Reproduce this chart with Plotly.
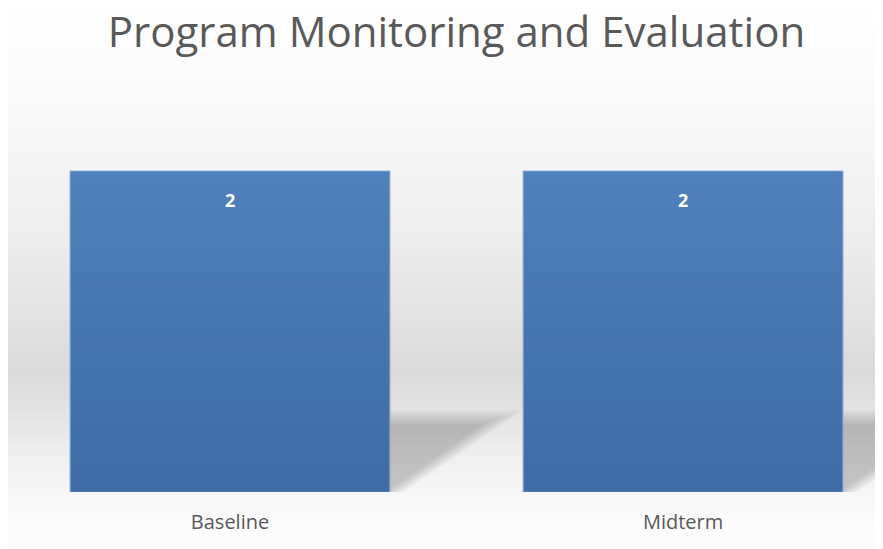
import numpy as np
import plotly.graph_objects as go

# --- Data ------------------------------------------------------------------
categories = ["Baseline", "Midterm"]
values = [2, 2]
title_text = "Program Monitoring and Evaluation"

# --- Geometry / style ------------------------------------------------------
# (the page body adds an 8px offset, so figure pixels = screen pixels - 8)
W, H = 883, 549
margin = dict(l=0, r=0, t=52, b=65)
plot_h = H - margin["t"] - margin["b"]
OFF = 8

bar_width = 0.706
x_pos = list(range(len(categories)))

# background gradient (screen pixel row -> grey level), Office style "floor" fill
grad_stops = [
    (0, 255), (60, 252), (170, 244), (260, 234), (330, 225),
    (370, 218), (385, 221), (420, 229), (460, 240), (490, 246),
    (520, 251), (560, 253),
]
stop_px = np.array([s[0] for s in grad_stops], dtype=float)
stop_g = np.array([s[1] for s in grad_stops], dtype=float)


def px_to_paper(py):
    return (H - margin["b"] - (py - OFF)) / plot_h


shapes = []
step = 3
for py in range(OFF, H + OFF, step):
    g = int(round(np.interp(py + step / 2, stop_px, stop_g)))
    shapes.append(dict(
        type="rect", xref="paper", yref="paper", layer="below",
        x0=0, x1=1.02, y0=px_to_paper(py + step), y1=px_to_paper(py),
        fillcolor=f"rgb({g},{g},{g})", line=dict(width=0),
    ))

# soft perspective shadows behind each bar
n_layers = 9
for xc in x_pos:
    right = xc + bar_width / 2
    for k in range(n_layers):
        t = (k - (n_layers - 1) / 2)
        top = 0.467 + t * 0.011
        tip = right + 0.25 + t * 0.011
        foot = right + 0.012 + t * 0.005
        shapes.append(dict(
            type="path", xref="x", yref="y", layer="below",
            path=f"M {xc},0 L {xc},{top} L {tip},{top} L {foot},0 Z",
            fillcolor="rgba(0,0,0,0.022)", line=dict(width=0),
        ))

# vertical shading on the bars (lighter top, darker bottom)
n_shade = 40
for xc, v in zip(x_pos, values):
    for k in range(n_shade):
        y0 = v * k / n_shade
        y1 = v * (k + 1) / n_shade
        a = 0.35 * (1 - (k + 0.5) / n_shade)
        shapes.append(dict(
            type="rect", xref="x", yref="y", layer="above",
            x0=xc - bar_width / 2 + 0.002, x1=xc + bar_width / 2 - 0.002,
            y0=y0, y1=y1,
            fillcolor=f"rgba(30,70,130,{a:.3f})", line=dict(width=0),
        ))

fig = go.Figure()
fig.add_trace(go.Bar(
    x=x_pos,
    y=values,
    width=bar_width,
    marker=dict(color="#4f81bd", line=dict(color="#8aa8d2", width=1)),
    hoverinfo="x+y",
))

annotations = [
    dict(x=x, y=v, xref="x", yref="y", text=f"<b>{v}</b>", showarrow=False,
         yshift=-29, font=dict(family="Open Sans", size=18, color="white"))
    for x, v in zip(x_pos, values)
]

fig.update_layout(
    width=W,
    height=H,
    margin=margin,
    paper_bgcolor="white",
    plot_bgcolor="rgba(0,0,0,0)",
    showlegend=False,
    shapes=shapes,
    annotations=annotations,
    title=dict(
        text=title_text, xref="container", yref="container",
        x=448.5 / W, y=1 - 24 / H, xanchor="center", yanchor="middle",
        font=dict(family="Open Sans", size=42, color="#595959"),
    ),
    xaxis=dict(
        range=[-0.490, 1.459],
        tickvals=x_pos,
        ticktext=categories,
        showgrid=False, zeroline=False, showline=False, ticks="",
        ticklabelstandoff=16,
        tickfont=dict(family="Open Sans", size=20, color="#595959"),
        fixedrange=True,
    ),
    yaxis=dict(
        range=[0, 2.692],
        visible=False,
        fixedrange=True,
    ),
)

fig.write_html("out.html")
